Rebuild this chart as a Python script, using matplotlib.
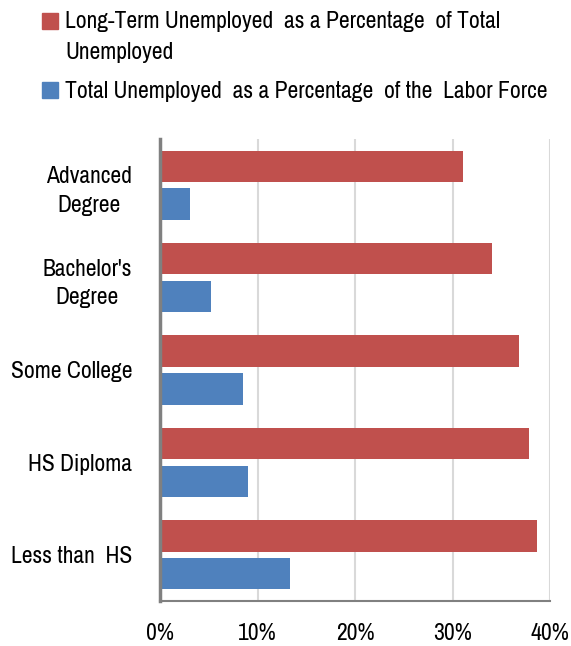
import matplotlib
matplotlib.use('Agg')
import matplotlib.pyplot as plt
import numpy as np
from matplotlib.patches import Patch

categories = ['Advanced\nDegree', "Bachelor's\nDegree", 'Some College', 'HS Diploma', 'Less than  HS']
long_term = [31.1, 34.1, 36.8, 37.8, 38.7]
total_unemp = [3.1, 5.2, 8.5, 9.0, 13.3]
ticks = [0, 10, 20, 30, 40]
tick_labels = ['0%', '10%', '20%', '30%', '40%']
legend_labels = ['Long-Term Unemployed  as a Percentage  of Total\nUnemployed',
                 'Total Unemployed  as a Percentage  of the  Labor Force']

red = '#c0504d'
blue = '#4f81bd'
plt.rcParams['font.family'] = ['Archivo Narrow', 'Liberation Sans Narrow', 'DejaVu Sans']
fs = 17

fig = plt.figure(figsize=(5.71, 6.46), dpi=100)
ax = fig.add_axes([160 / 571, 1 - 601 / 646, (550 - 160) / 571, (601 - 139) / 646])

y = np.arange(len(categories))
h = 0.34
ax.barh(y - 0.205, long_term, height=h, color=red, zorder=3)
ax.barh(y + 0.205, total_unemp, height=h, color=blue, zorder=3)

ax.set_xlim(0, 40)
ax.set_ylim(len(categories) - 0.5, -0.5)
ax.set_xticks(ticks)
ax.set_xticklabels(tick_labels, fontsize=fs)
ax.set_yticks(y)
ax.set_yticklabels(categories, fontsize=fs, multialignment='center', linespacing=1.45)
ax.tick_params(axis='both', length=0)
ax.tick_params(axis='x', pad=16)
ax.tick_params(axis='y', pad=20)

ax.grid(axis='x', color='#d9d9d9', lw=1.5, zorder=0)
for s in ['top', 'right']:
    ax.spines[s].set_visible(False)
ax.spines['left'].set_color('#808080')
ax.spines['left'].set_linewidth(2.5)
ax.spines['bottom'].set_color('#808080')
ax.spines['bottom'].set_linewidth(1.5)
ax.spines['left'].set_zorder(4)

handles = [Patch(color=red), Patch(color=blue)]
leg = fig.legend(handles, legend_labels, loc='upper left', bbox_to_anchor=(42 / 571, 1 - 11 / 646),
                 frameon=False, fontsize=fs, handlelength=0.68, handleheight=0.68,
                 handletextpad=0.3, labelspacing=0.75, borderaxespad=0, borderpad=0)
for t in leg.get_texts():
    t.set_linespacing(1.6)
# put the red square next to the first line of its wrapped label
sq = leg.legend_handles[0]
sq.set_y(sq.get_y() + 12)

fig.savefig('out.png', dpi=100)
